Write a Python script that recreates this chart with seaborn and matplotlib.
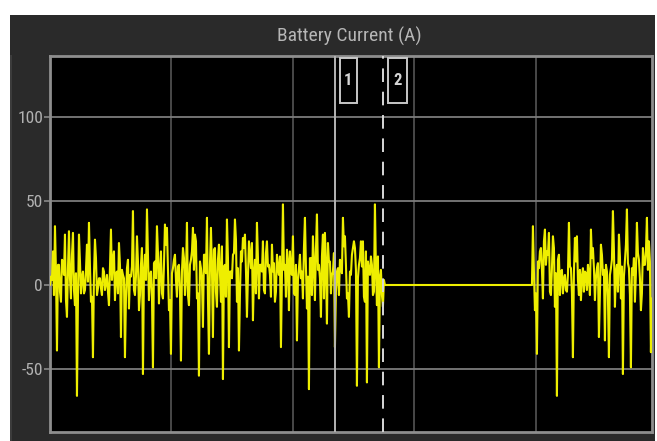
import numpy as np
import pandas as pd
import matplotlib
matplotlib.use("Agg")
import matplotlib.pyplot as plt
from matplotlib.patches import Rectangle
from matplotlib import font_manager
import seaborn as sns

# ---- data -------------------------------------------------------------
title = "Battery Current (A)"
y_ticks = [-50, 0, 50, 100]
sample_dt = 0.01646          # s between logged peaks
burst1_start = 0.008         # s
burst2_start = 3.975         # s
cursor_1 = 2.346             # s, solid cursor
cursor_2 = 2.74              # s, dashed cursor

# peak battery current in each sample during the first drive burst (A)
burst1_peak = [
    5, 20, 35, -39, 12, -10, 14, 30, -19, 32, -8, 31, -12, -66, 30, -5,
    8, -3, 24, 37, -10, -43, 27, -6, 4, -2, 10, -3, 6, -12, 33, 15,
    -9, 8, 25, -31, 6, -43, 10, -14, 5, 44, -6, 29, -15, 12, -53, 18,
    45, -9, 8, -49, 14, 35, -11, 20, -8, 36, 34, -15, -41, 10, 18, -7,
    12, -45, 22, -6, 37, -12, 15, 34, 30, -8, -54, 10, -25, 18, 40, -41,
    34, -31, 22, -13, 24, -10, -56, 12, 39, -37, 8, 18, 39, -10, -39, 20,
    28, 30, -19, 26, 10, -21, 15, 37, -8, 12, 26, -5, 26, 12, -7, 8,
    -10, 18, 6, -37, 48, 12, 21, -15, 8, 29, -6, -33, 10, 4, -8, 40,
    -14, -62, 16, 29, -9, 42, 12, -19, 30, 31, -23, 14, -5, 8, -37, 8,
    -6, 12, 40, 29, -8, -19, 6, 22, 22, -60, 12, 26, 26, -10, -58, 8,
    17, -6, 48, -12, -49, 9, -13,
]
# settled current between peaks, first burst (A)
burst1_settle = [
    3, -6, 8, 12, -4, 15, 6, -9, 10, 4, 18, -3, 7, -8, 14, 5,
    -5, 9, 2, 11, -7, 6, 16, -2, 4, -6, 8, 1, -4, 10, 3, 20,
    7, -5, 12, 9, 4, -8, 15, 6, 11, -3, 5, 14, -6, 22, 8, 3,
    17, 6, -7, 13, 4, 19, 9, -5, 12, 24, 10, -9, 7, 15, 3, 11,
    -4, 8, 16, 5, -6, 12, 20, 9, 26, -5, 14, 3, 18, 7, -8, 12,
    9, 21, -4, 15, 6, 23, 11, -7, 16, 8, 4, 19, 27, 10, -6, 14,
    22, 9, 5, 18, 25, 7, -5, 16, 12, 8, -3, 19, 11, 6, 24, 13,
    -4, 10, 17, 5, 9, -7, 14, 20, 6, -5, 12, 3, 18, 8, 22, 11,
    5, 16, -6, 13, 21, 9, 4, 17, -8, 11, 25, 14, 6, 19, -4, 10,
    15, 7, 23, 12, -5, 8, 18, 26, 9, 4, 16, 11, -7, 20, 14, 6,
    12, -4, 9, 17, 5, -6, 3,
]

# peak battery current in each sample during the second drive burst (A)
burst2_peak = [
    35, -15, -41, 10, 22, -8, 33, 20, 31, -6, 29, -13, -66, 18, 8, -5,
    6, -4, 37, 10, -43, 28, 29, -6, -9, 10, 8, -3, 5, 33, 22, -9,
    10, -31, 24, 6, -33, 8, -43, 10, 44, -13, 12, 30, -8, -53, 14, 45,
    10, -49, 6, -10, 37, 15, -15, 22, 12, 40, 26, -40,
]
# settled current between peaks, second burst (A)
burst2_settle = [
    8, -5, 14, 20, 9, 26, 12, 18, -4, 10, 22, 7, 15, -6, 9, 4,
    -3, 6, 11, -5, 8, 14, 3, 9, 5, -4, 7, 12, -6, 16, 10, 4,
    13, -5, 18, 9, 12, -7, 6, 15, 21, 8, -4, 17, 11, 5, 24, 13,
    -6, 10, 16, 7, 19, 4, -5, 12, 20, 9, 14, -8,
]


# ---- assemble the time series ------------------------------------------
def burst(start, peaks, settle):
    t = start + sample_dt * np.arange(len(peaks))
    times = np.column_stack([t, t + sample_dt / 2]).ravel()
    values = np.column_stack([peaks, settle]).ravel()
    return times, values


ta, va = burst(burst1_start, burst1_peak, burst1_settle)
tb, vb = burst(burst2_start, burst2_peak, burst2_settle)
time = np.concatenate([[0.0], ta, [ta[-1] + sample_dt / 2], [burst2_start - sample_dt / 2], tb])
current = np.concatenate([[0.0], va, [0.0], [0.0], vb])
df = pd.DataFrame({"time": time, "current": current})

# ---- figure ------------------------------------------------------------
sns.set_style("dark")
installed = {f.name for f in font_manager.fontManager.ttflist}
narrow = [f for f in ["Liberation Sans Narrow", "Roboto Condensed", "Roboto"] if f in installed]
plt.rcParams["font.family"] = narrow[:1] + ["DejaVu Sans"]

W, H = 657, 441
fig = plt.figure(figsize=(W / 100, H / 100), dpi=100, facecolor="white")

# dark scope window behind the plot
panel = Rectangle((10 / W, 0), (655 - 10) / W, (H - 15) / H,
                  transform=fig.transFigure, facecolor="#2a2a2a",
                  edgecolor="none", zorder=-10)
edge = Rectangle((10 / W, 0), 2 / W, (H - 55) / H,
                 transform=fig.transFigure, facecolor="#3c3c3c",
                 edgecolor="none", zorder=-9)
fig.add_artist(panel)
fig.add_artist(edge)

ax = fig.add_axes([50 / W, 9 / H, 602 / W, 376 / H])
ax.set_zorder(5)
ax.set_facecolor("black")

sns.lineplot(data=df, x="time", y="current", ax=ax, color="#eeee00",
             linewidth=1.5, estimator=None, sort=False, zorder=3)

ax.set_xlim(0, 4.955)
ax.set_ylim(-87.5, 136.3)
ax.set_xticks([1, 2, 3, 4])
ax.set_yticks(y_ticks)
ax.set_yticklabels([str(v) for v in y_ticks])
ax.set_xlabel("")
ax.set_ylabel("")

ax.grid(True, zorder=1)
ax.xaxis.grid(True, color="#4e4e4e", linewidth=1.3)
ax.yaxis.grid(True, color="#7c7c7c", linewidth=1.3)
ax.set_axisbelow(True)

ax.tick_params(axis="x", length=0, labelbottom=False)
ax.tick_params(axis="y", length=4, width=1.2, color="#8a8a8a",
               labelcolor="#b2b2b2", labelsize=12.5, pad=1, left=True)
for s in ax.spines.values():
    s.set_visible(True)
    s.set_color("#8e8e8e")
    s.set_linewidth(2)

# measurement cursors
ax.axvline(cursor_1, color="#b4b4b4", linewidth=1.4, zorder=4)
ax.axvline(cursor_2, color="#d8d8d8", linewidth=1.4, dashes=(7, 5), zorder=4)

for cx, label, w in [(cursor_1 + 0.04, "1", 0.14), (cursor_2 + 0.04, "2", 0.156)]:
    ax.add_patch(Rectangle((cx, 108.5), w, 26.5, facecolor="black",
                           edgecolor="#c8c8c8", linewidth=1.4, zorder=5))
    ax.text(cx + w / 2, 121.5, label, ha="center", va="center",
            color="#d6d6d6", fontsize=12, fontweight="bold", zorder=6)

fig.text(349 / W, 1 - 36 / H, title, ha="center", va="center",
         fontsize=14, color="#b6b6b6")

fig.savefig("out.png", dpi=100, facecolor=fig.get_facecolor())
